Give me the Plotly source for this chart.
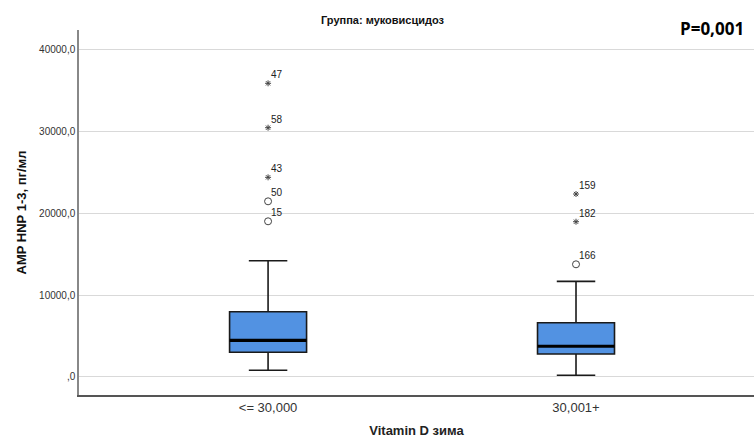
import plotly.graph_objects as go

categories = ["<= 30,000", "30,001+"]
q1 = [3016, 2810]
median = [4480, 3750]
q3 = [7973, 6630]
lower_whisker = [818, 210]
upper_whisker = [14200, 11680]

# outliers: (group index, value, case label, kind)
out_group = [0, 0, 0, 0, 0, 1, 1, 1]
out_value = [35860, 30440, 24380, 21450, 19010, 22340, 18960, 13760]
out_label = ["47", "58", "43", "50", "15", "159", "182", "166"]
out_kind = ["extreme", "extreme", "extreme", "outlier", "outlier", "extreme", "extreme", "outlier"]

y_ticks = [0, 10000, 20000, 30000, 40000]
y_ticktext = [",0", "10000,0", "20000,0", "30000,0", "40000,0"]

xpos = list(range(len(categories)))
box_w = 0.25

fig = go.Figure()
fig.add_trace(go.Box(
    x=xpos, q1=q1, median=median, q3=q3,
    lowerfence=lower_whisker, upperfence=upper_whisker,
    width=box_w, whiskerwidth=0.5,
    fillcolor="#5292e2", line=dict(color="#1a1a1a", width=1.6),
    boxpoints=False, showlegend=False, hoverinfo="skip",
))
# thick median lines
for i, m in enumerate(median):
    fig.add_trace(go.Scatter(
        x=[xpos[i] - box_w / 2, xpos[i] + box_w / 2], y=[m, m],
        mode="lines", line=dict(color="black", width=3.2),
        showlegend=False, hoverinfo="skip",
    ))

for kind, sym, size in [("extreme", "asterisk", 5), ("outlier", "circle-open", 7)]:
    idx = [i for i, k in enumerate(out_kind) if k == kind]
    fig.add_trace(go.Scatter(
        x=[xpos[out_group[i]] for i in idx],
        y=[out_value[i] for i in idx],
        mode="markers",
        marker=dict(symbol=sym, size=size, color="#444444",
                    line=dict(color="#444444", width=1)),
        showlegend=False, hoverinfo="skip",
    ))

for i in range(len(out_value)):
    fig.add_annotation(
        x=xpos[out_group[i]], y=out_value[i], text=out_label[i],
        showarrow=False, xanchor="left", yanchor="bottom",
        xshift=1, yshift=1, font=dict(family="Liberation Sans, Arial", size=10, color="#222222"),
    )

fig.add_annotation(
    xref="paper", yref="paper", x=(383 - 79) / 675, y=1 + 10 / 365,
    text="<b>Группа: муковисцидоз</b>", showarrow=False,
    xanchor="center", yanchor="middle",
    font=dict(family="Liberation Sans, Arial", size=11, color="#111111"),
)
fig.add_annotation(
    xref="paper", yref="paper", x=1 - 8 / 675, y=1 + 2 / 365,
    text="<b>P=0,001</b>", showarrow=False,
    xanchor="right", yanchor="middle",
    font=dict(family="Open Sans, Noto Sans", size=17, color="black"),
)

fig.update_layout(
    width=754, height=446,
    margin=dict(l=79, r=0, t=30, b=51),
    paper_bgcolor="white", plot_bgcolor="white",
    font=dict(family="Liberation Sans, Arial", color="#222222"),
    xaxis=dict(
        range=[-0.614, 1.578], tickvals=xpos, ticktext=categories,
        showgrid=False, zeroline=False, showline=True, linecolor="#555555", linewidth=1.5,
        ticks="", tickfont=dict(size=13, color="#333333"),
        title=dict(text="<b>Vitamin D зима</b>", font=dict(size=13, color="#222222"), standoff=12),
    ),
    yaxis=dict(
        range=[-2200, 42370], tickvals=y_ticks, ticktext=y_ticktext,
        showgrid=True, gridcolor="#d9d9d9", gridwidth=1.3, zeroline=False,
        showline=True, linecolor="#888888", linewidth=1.5,
        ticks="", tickfont=dict(size=10, color="#333333"),
        title=dict(text="<b>AMP HNP 1-3, пг/мл</b>", font=dict(size=13, color="#111111"), standoff=10),
    ),
)

fig.write_html("out.html")
